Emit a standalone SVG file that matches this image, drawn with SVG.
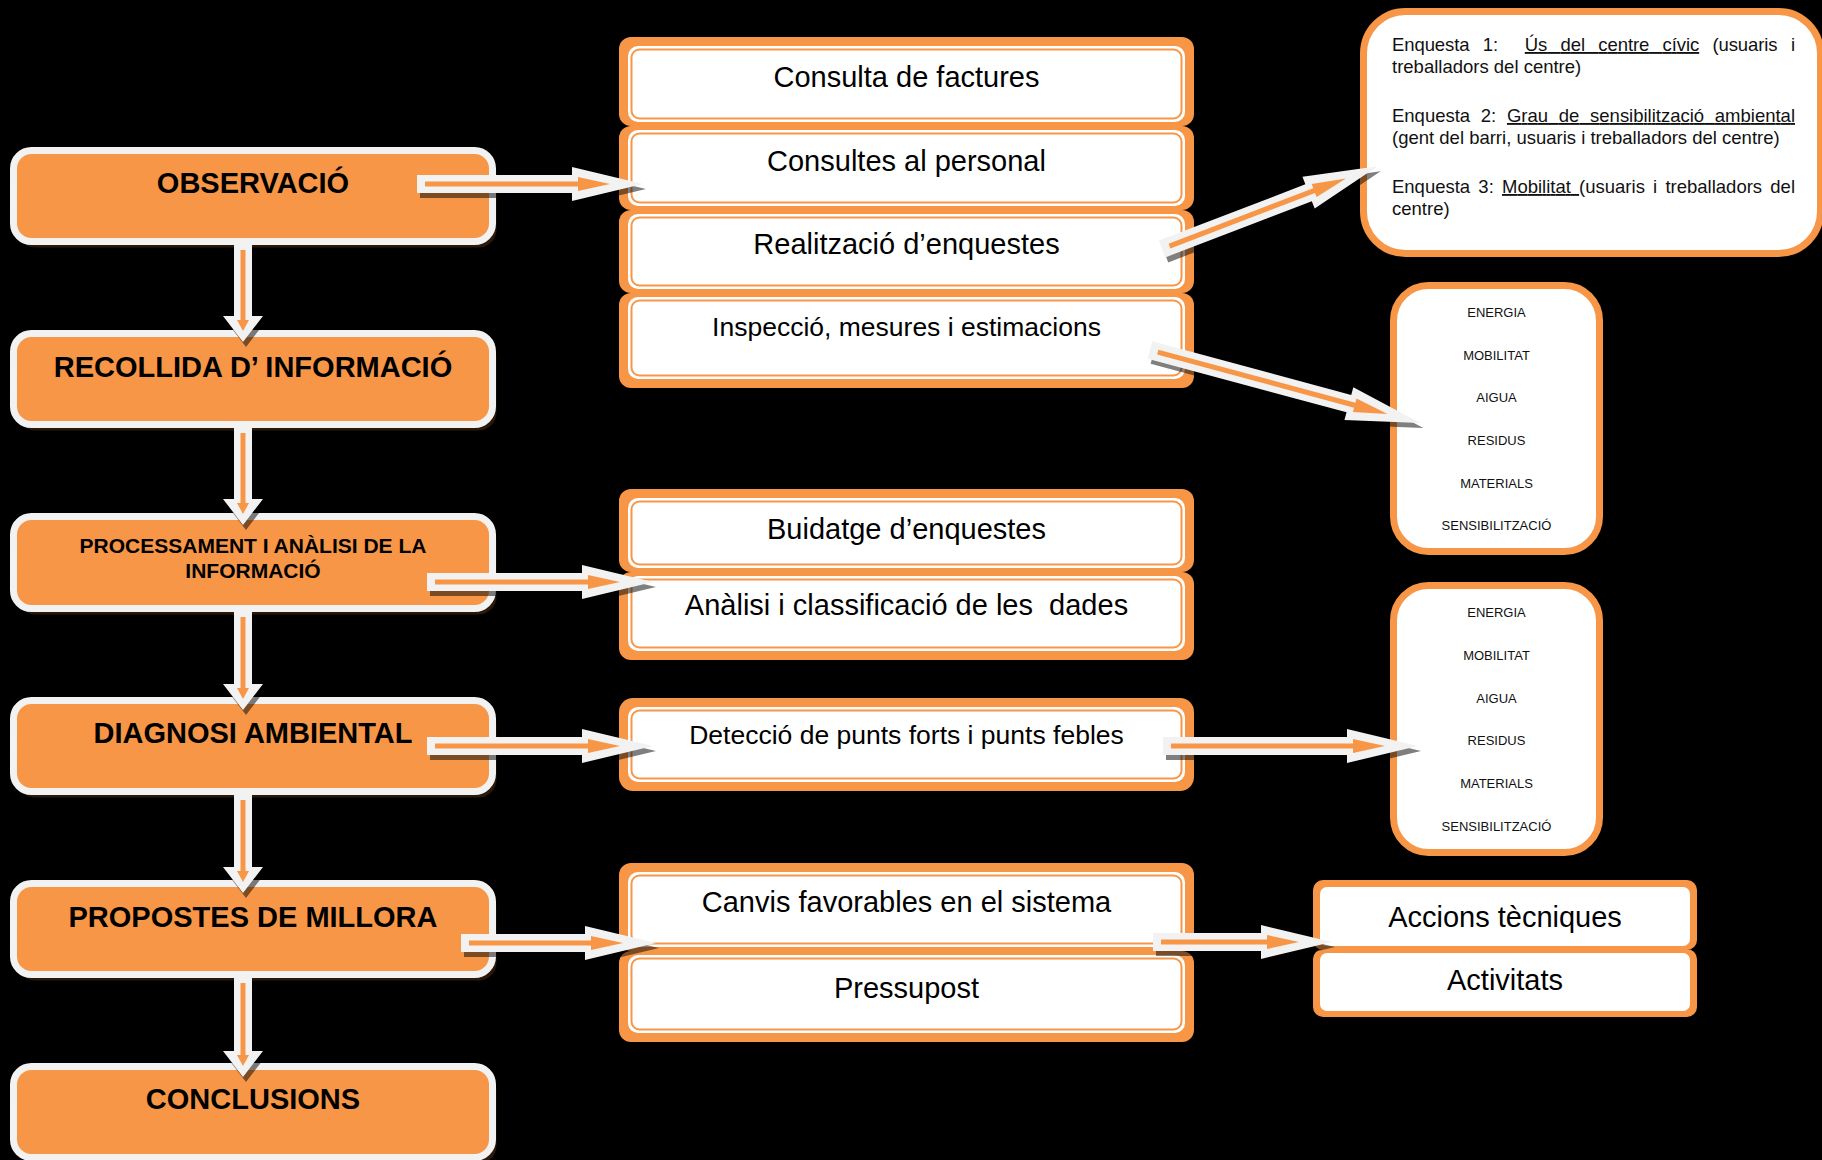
<svg xmlns="http://www.w3.org/2000/svg" width="1822" height="1160" viewBox="0 0 1822 1160">
<style>
text{font-family:"Liberation Sans",Arial,sans-serif;fill:#000}
.lbox{fill:#F79646;stroke:#F2F2F2;stroke-width:7}
.lsh{fill:#2a1809}
.lt{font-size:29px;font-weight:bold;text-anchor:middle}
.lt2{font-size:21px;font-weight:bold;text-anchor:middle}
.ob{fill:#F79646}
.wi{fill:#FFFFFF}
.thin{fill:none;stroke:#F79646;stroke-width:2}
.mt{font-size:29px;text-anchor:middle}
.mt2{font-size:26.5px;text-anchor:middle}
.rbox{fill:#FFFFFF;stroke:#F79646;stroke-width:7}
.it{font-size:13px;text-anchor:middle;fill:#111}
.et{font-size:18.5px;fill:#111}
.aw{fill:#F2F2F2}
.ao{fill:#F79646}
.ash{fill:#000;opacity:0.5}
</style>
<rect x="0" y="0" width="1822" height="1160" fill="#000"/>

<!-- Left column -->
<g id="observacio">
<rect class="lsh" x="17.5" y="156.5" width="479" height="91" rx="18"/>
<rect class="lbox" x="13.5" y="150.5" width="479" height="91" rx="18"/>
<text class="lt" x="253" y="193">OBSERVACIÓ</text>
</g>
<g id="recollida">
<rect class="lsh" x="17.5" y="339.5" width="479" height="91" rx="18"/>
<rect class="lbox" x="13.5" y="333.5" width="479" height="91" rx="18"/>
<text class="lt" x="253" y="377">RECOLLIDA D’ INFORMACIÓ</text>
</g>
<g id="processament">
<rect class="lsh" x="17.5" y="522.5" width="479" height="92" rx="18"/>
<rect class="lbox" x="13.5" y="516.5" width="479" height="92" rx="18"/>
<text class="lt2" x="253" y="553">PROCESSAMENT I ANÀLISI DE LA</text>
<text class="lt2" x="253" y="578">INFORMACIÓ</text>
</g>
<g id="diagnosi">
<rect class="lsh" x="17.5" y="706.5" width="479" height="91" rx="18"/>
<rect class="lbox" x="13.5" y="700.5" width="479" height="91" rx="18"/>
<text class="lt" x="253" y="743">DIAGNOSI AMBIENTAL</text>
</g>
<g id="propostes">
<rect class="lsh" x="17.5" y="889.5" width="479" height="91" rx="18"/>
<rect class="lbox" x="13.5" y="883.5" width="479" height="91" rx="18"/>
<text class="lt" x="253" y="927">PROPOSTES DE MILLORA</text>
</g>
<g id="conclusions">
<rect class="lsh" x="17.5" y="1072.5" width="479" height="91" rx="18"/>
<rect class="lbox" x="13.5" y="1066.5" width="479" height="91" rx="18"/>
<text class="lt" x="253" y="1109">CONCLUSIONS</text>
</g>

<!-- Middle column group 1 -->
<g id="consulta-factures">
<rect class="ob" x="619" y="37" width="575" height="89" rx="12"/>
<rect class="wi" x="628" y="46" width="557" height="76" rx="10"/>
<rect class="thin" x="631.5" y="49.5" width="550" height="69" rx="8"/>
<text class="mt" x="906.5" y="87">Consulta de factures</text>
</g>
<g id="consultes-personal">
<rect class="ob" x="619" y="126" width="575" height="84" rx="12"/>
<rect class="wi" x="628" y="130" width="557" height="76" rx="10"/>
<rect class="thin" x="631.5" y="133.5" width="550" height="69" rx="8"/>
<text class="mt" x="906.5" y="171">Consultes al personal</text>
</g>
<g id="realitzacio">
<rect class="ob" x="619" y="210" width="575" height="83" rx="12"/>
<rect class="wi" x="628" y="214" width="557" height="75" rx="10"/>
<rect class="thin" x="631.5" y="217.5" width="550" height="68" rx="8"/>
<text class="mt" x="906.5" y="254">Realització d’enquestes</text>
</g>
<g id="inspeccio">
<rect class="ob" x="619" y="293" width="575" height="95" rx="12"/>
<rect class="wi" x="628" y="297" width="557" height="82" rx="10"/>
<rect class="thin" x="631.5" y="300.5" width="550" height="75" rx="8"/>
<text class="mt2" x="906.5" y="336">Inspecció, mesures i estimacions</text>
</g>

<!-- Middle column group 2 -->
<g id="buidatge">
<rect class="ob" x="619" y="489" width="575" height="83" rx="12"/>
<rect class="wi" x="628" y="498" width="557" height="70" rx="10"/>
<rect class="thin" x="631.5" y="501.5" width="550" height="63" rx="8"/>
<text class="mt" x="906.5" y="539">Buidatge d’enquestes</text>
</g>
<g id="analisi">
<rect class="ob" x="619" y="572" width="575" height="88" rx="12"/>
<rect class="wi" x="628" y="576" width="557" height="75" rx="10"/>
<rect class="thin" x="631.5" y="579.5" width="550" height="68" rx="8"/>
<text class="mt" x="906.5" y="615" xml:space="preserve">Anàlisi i classificació de les  dades</text>
</g>

<!-- Middle column group 3 -->
<g id="deteccio">
<rect class="ob" x="619" y="698" width="575" height="93" rx="14"/>
<rect class="wi" x="628" y="707" width="557" height="75" rx="10"/>
<rect class="thin" x="631.5" y="710.5" width="550" height="68" rx="8"/>
<text class="mt2" x="906.5" y="744">Detecció de punts forts i punts febles</text>
</g>

<!-- Middle column group 4 -->
<g id="canvis">
<rect class="ob" x="619" y="863" width="575" height="88" rx="12"/>
<rect class="wi" x="628" y="872" width="557" height="75" rx="10"/>
<rect class="thin" x="631.5" y="875.5" width="550" height="68" rx="8"/>
<text class="mt" x="906.5" y="912">Canvis favorables en el sistema</text>
</g>
<g id="pressupost">
<rect class="ob" x="619" y="951" width="575" height="91" rx="12"/>
<rect class="wi" x="628" y="955" width="557" height="78" rx="10"/>
<rect class="thin" x="631.5" y="958.5" width="550" height="71" rx="8"/>
<text class="mt" x="906.5" y="998">Pressupost</text>
</g>

<!-- Right column -->
<g id="enquestes">
<rect class="rbox" x="1363.5" y="11.5" width="457" height="242" rx="42"/>
<text class="et" x="1392" y="51" textLength="403" lengthAdjust="spacing" word-spacing="8.3" xml:space="preserve">Enquesta 1:  <tspan text-decoration="underline">Ús del centre cívic</tspan> (usuaris i</text>
<text class="et" x="1392" y="73">treballadors del centre)</text>
<text class="et" x="1392" y="122" textLength="403" lengthAdjust="spacing" word-spacing="5.6">Enquesta 2: <tspan text-decoration="underline">Grau de sensibilització ambiental</tspan></text>
<text class="et" x="1392" y="144">(gent del barri, usuaris i treballadors del centre)</text>
<text class="et" x="1392" y="193" textLength="403" lengthAdjust="spacing" word-spacing="3.1" xml:space="preserve">Enquesta 3: <tspan text-decoration="underline">Mobilitat </tspan>(usuaris i treballadors del</text>
<text class="et" x="1392" y="215">centre)</text>
</g>
<g id="aspectes-1">
<rect class="rbox" x="1393.5" y="285.5" width="206" height="266" rx="35"/>
<text class="it" x="1496.5" y="317">ENERGIA</text>
<text class="it" x="1496.5" y="360">MOBILITAT</text>
<text class="it" x="1496.5" y="402">AIGUA</text>
<text class="it" x="1496.5" y="445">RESIDUS</text>
<text class="it" x="1496.5" y="488">MATERIALS</text>
<text class="it" x="1496.5" y="530">SENSIBILITZACIÓ</text>
</g>
<g id="aspectes-2">
<rect class="rbox" x="1393.5" y="585.5" width="206" height="267" rx="35"/>
<text class="it" x="1496.5" y="617">ENERGIA</text>
<text class="it" x="1496.5" y="660">MOBILITAT</text>
<text class="it" x="1496.5" y="703">AIGUA</text>
<text class="it" x="1496.5" y="745">RESIDUS</text>
<text class="it" x="1496.5" y="788">MATERIALS</text>
<text class="it" x="1496.5" y="831">SENSIBILITZACIÓ</text>
</g>
<g id="accions">
<rect class="ob" x="1313" y="880" width="384" height="70" rx="10"/>
<rect class="wi" x="1320" y="887" width="370" height="59" rx="7"/>
<text class="mt" x="1505" y="927">Accions tècniques</text>
</g>
<g id="activitats">
<rect class="ob" x="1313" y="949" width="384" height="68" rx="10"/>
<rect class="wi" x="1320" y="953" width="370" height="58" rx="7"/>
<text class="mt" x="1505" y="990">Activitats</text>
</g>

<!-- Connectors -->
<g id="connectors">
<!-- vertical -->
<g transform="translate(246,250) rotate(90)"><polygon class="ash" points="0,-9 71,-9 71,-20 97,0 71,20 71,9 0,9"/></g>
<g transform="translate(243,245) rotate(90)"><polygon class="aw" points="0,-9 71,-9 71,-20 97,0 71,20 71,9 0,9"/><polygon class="ao" points="5,-2.5 75,-2.5 75,-6 86,0 75,6 75,2.5 5,2.5"/></g>
<g transform="translate(246,433) rotate(90)"><polygon class="ash" points="0,-9 71,-9 71,-20 97,0 71,20 71,9 0,9"/></g>
<g transform="translate(243,428) rotate(90)"><polygon class="aw" points="0,-9 71,-9 71,-20 97,0 71,20 71,9 0,9"/><polygon class="ao" points="5,-2.5 75,-2.5 75,-6 86,0 75,6 75,2.5 5,2.5"/></g>
<g transform="translate(246,617) rotate(90)"><polygon class="ash" points="0,-9 72,-9 72,-20 98,0 72,20 72,9 0,9"/></g>
<g transform="translate(243,612) rotate(90)"><polygon class="aw" points="0,-9 72,-9 72,-20 98,0 72,20 72,9 0,9"/><polygon class="ao" points="5,-2.5 76,-2.5 76,-6 87,0 76,6 76,2.5 5,2.5"/></g>
<g transform="translate(246,800) rotate(90)"><polygon class="ash" points="0,-9 72,-9 72,-20 98,0 72,20 72,9 0,9"/></g>
<g transform="translate(243,795) rotate(90)"><polygon class="aw" points="0,-9 72,-9 72,-20 98,0 72,20 72,9 0,9"/><polygon class="ao" points="5,-2.5 76,-2.5 76,-6 87,0 76,6 76,2.5 5,2.5"/></g>
<g transform="translate(246,983) rotate(90)"><polygon class="ash" points="0,-9 73,-9 73,-20 99,0 73,20 73,9 0,9"/></g>
<g transform="translate(243,978) rotate(90)"><polygon class="aw" points="0,-9 73,-9 73,-20 99,0 73,20 73,9 0,9"/><polygon class="ao" points="5,-2.5 77,-2.5 77,-6 88,0 77,6 77,2.5 5,2.5"/></g>

<!-- OBSERVACIÓ -> Consultes -->
<g transform="translate(420,189)"><polygon class="ash" points="0,-9 155,-9 155,-17 226,0 155,17 155,9 0,9"/></g>
<g transform="translate(417,184)"><polygon class="aw" points="0,-9 155,-9 155,-17 226,0 155,17 155,9 0,9"/><polygon class="ao" points="8,-2.5 161,-2.5 161,-7 193,0 161,7 161,2.5 8,2.5"/></g>
<!-- PROCESSAMENT -> Anàlisi -->
<g transform="translate(430,587)"><polygon class="ash" points="0,-9 155,-9 155,-17 226,0 155,17 155,9 0,9"/></g>
<g transform="translate(427,582)"><polygon class="aw" points="0,-9 155,-9 155,-17 226,0 155,17 155,9 0,9"/><polygon class="ao" points="8,-2.5 161,-2.5 161,-7 193,0 161,7 161,2.5 8,2.5"/></g>
<!-- DIAGNOSI -> Detecció -->
<g transform="translate(430,751)"><polygon class="ash" points="0,-9 155,-9 155,-17 226,0 155,17 155,9 0,9"/></g>
<g transform="translate(427,746)"><polygon class="aw" points="0,-9 155,-9 155,-17 226,0 155,17 155,9 0,9"/><polygon class="ao" points="8,-2.5 161,-2.5 161,-7 193,0 161,7 161,2.5 8,2.5"/></g>
<!-- Detecció -> aspectes 2 -->
<g transform="translate(1166,751)"><polygon class="ash" points="0,-9 184,-9 184,-17 255,0 184,17 184,9 0,9"/></g>
<g transform="translate(1163,746)"><polygon class="aw" points="0,-9 184,-9 184,-17 255,0 184,17 184,9 0,9"/><polygon class="ao" points="8,-2.5 190,-2.5 190,-7 222,0 190,7 190,2.5 8,2.5"/></g>
<!-- PROPOSTES -> Canvis/Pressupost -->
<g transform="translate(464,948)"><polygon class="ash" points="0,-9 124,-9 124,-17 195,0 124,17 124,9 0,9"/></g>
<g transform="translate(461,943)"><polygon class="aw" points="0,-9 124,-9 124,-17 195,0 124,17 124,9 0,9"/><polygon class="ao" points="8,-2.5 130,-2.5 130,-7 162,0 130,7 130,2.5 8,2.5"/></g>
<!-- Canvis/Pressupost -> Accions/Activitats -->
<g transform="translate(1156,947)"><polygon class="ash" points="0,-9 108,-9 108,-17 179,0 108,17 108,9 0,9"/></g>
<g transform="translate(1153,942)"><polygon class="aw" points="0,-9 108,-9 108,-17 179,0 108,17 108,9 0,9"/><polygon class="ao" points="8,-2.5 114,-2.5 114,-7 146,0 114,7 114,2.5 8,2.5"/></g>
<!-- Realització -> Enquestes -->
<g transform="translate(1165,254) rotate(-21)"><polygon class="ash" points="0,-9 157,-9 157,-17 231,0 157,17 157,9 0,9"/></g>
<g transform="translate(1162,249) rotate(-21)"><polygon class="aw" points="0,-9 157,-9 157,-17 231,0 157,17 157,9 0,9"/><polygon class="ao" points="8,-2.5 163,-2.5 163,-7 197,0 163,7 163,2.5 8,2.5"/></g>
<!-- Inspecció -> aspectes 1 -->
<g transform="translate(1153,355) rotate(15.1)"><polygon class="ash" points="0,-9 206,-9 206,-17 280,0 206,17 206,9 0,9"/></g>
<g transform="translate(1150,350) rotate(15.1)"><polygon class="aw" points="0,-9 206,-9 206,-17 280,0 206,17 206,9 0,9"/><polygon class="ao" points="8,-2.5 212,-2.5 212,-7 246,0 212,7 212,2.5 8,2.5"/></g>
</g>
</svg>
